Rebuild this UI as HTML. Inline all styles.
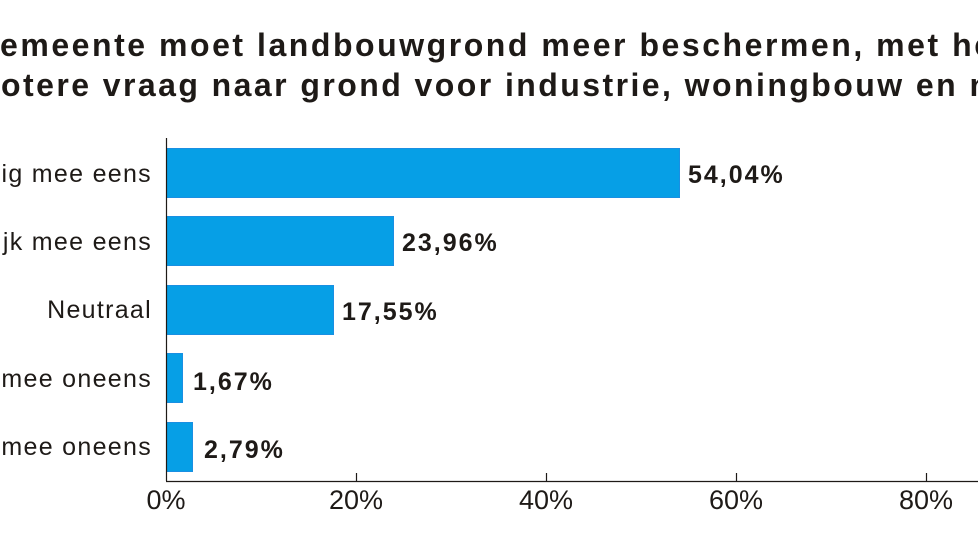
<!DOCTYPE html>
<html><head><meta charset="utf-8"><style>
html,body{margin:0;padding:0;background:#fff;width:978px;height:550px;overflow:hidden}
svg{display:block}
</style></head><body>
<svg width="978" height="550" xmlns="http://www.w3.org/2000/svg" font-family="'Liberation Sans', 'DejaVu Sans', sans-serif">
<g font-size="32" font-weight="bold" fill="#1e1a17">
<text x="-1" y="56" text-anchor="end">G</text>
<text x="0" y="56" textLength="992" lengthAdjust="spacing">emeente moet landbouwgrond meer beschermen, met he</text>
<text x="-2" y="96" text-anchor="end">gr</text>
<text x="1" y="96" textLength="988" lengthAdjust="spacing">otere vraag naar grond voor industrie, woningbouw en n</text>
</g>
<g fill="#069fe6" stroke="#1a8fe2" stroke-width="1">
<rect x="166.5" y="148.5" width="513" height="49"/>
<rect x="166.5" y="216.5" width="227" height="49"/>
<rect x="166.5" y="285.5" width="167" height="49"/>
<rect x="166.5" y="353.5" width="16" height="49"/>
<rect x="166.5" y="422.5" width="26" height="49"/>
</g>
<g stroke="#1e1a17" stroke-width="1.2" fill="none">
<line x1="166.5" y1="138" x2="166.5" y2="481"/>
<line x1="166" y1="481.5" x2="978" y2="481.5"/>
<line x1="356.5" y1="473" x2="356.5" y2="481"/>
<line x1="546.5" y1="473" x2="546.5" y2="481"/>
<line x1="736.5" y1="473" x2="736.5" y2="481"/>
<line x1="926.5" y1="473" x2="926.5" y2="481"/>
</g>
<g font-size="25" fill="#1e1a17" text-anchor="end" letter-spacing="1.3">
<text x="152" y="182">Volledig mee eens</text>
<text x="152" y="250">Redelijk mee eens</text>
<text x="152" y="318">Neutraal</text>
<text x="152" y="387">Redelijk mee oneens</text>
<text x="152" y="455">Volledig mee oneens</text>
</g>
<g font-size="25" font-weight="bold" fill="#1e1a17" letter-spacing="2">
<text x="688" y="183">54,04%</text>
<text x="402" y="251">23,96%</text>
<text x="342" y="320">17,55%</text>
<text x="193" y="390">1,67%</text>
<text x="204" y="458">2,79%</text>
</g>
<g font-size="27" fill="#1e1a17" text-anchor="middle">
<text x="166" y="509">0%</text>
<text x="356" y="509">20%</text>
<text x="546" y="509">40%</text>
<text x="736" y="509">60%</text>
<text x="926" y="509">80%</text>
</g>
</svg>
</body></html>
